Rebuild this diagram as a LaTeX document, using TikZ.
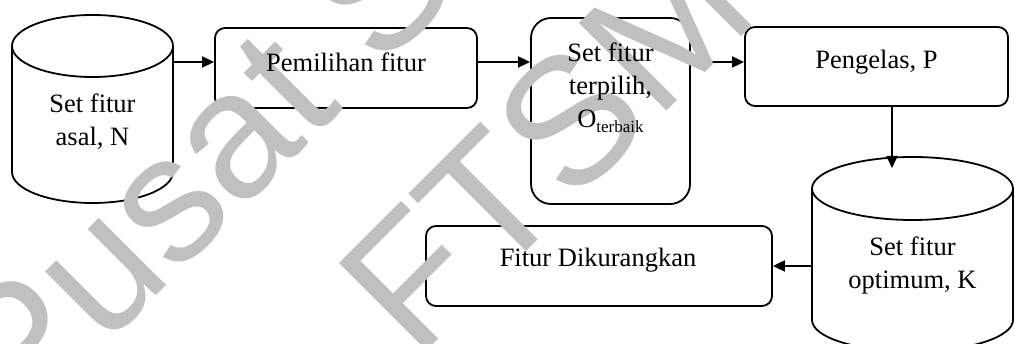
\documentclass[tikz,border=0pt]{standalone}
\usepackage{fontspec}
\setmainfont{Liberation Serif}
\newfontfamily\wmfont{Liberation Sans}
\usetikzlibrary{arrows.meta,calc}
\pgfdeclarelayer{wm}
\pgfdeclarelayer{fg}
\pgfsetlayers{main,wm,fg}
\definecolor{wmgray}{RGB}{192,192,192}

\tikzset{
  x=1pt, y=1pt,
  outline/.style={draw=black, line width=1.8pt, fill=white},
  procbox/.style={outline, rounded corners=10pt, inner sep=0pt},
  holder/.style={inner sep=0pt, outer sep=0pt},
  arr/.style={draw=black, line width=1.8pt, -{Triangle[length=12pt,width=11pt]}},
  lbl/.style={font=\fontsize{26.5}{33}\selectfont, align=center, inner sep=0pt},
  wmtext/.style={font=\wmfont\fontsize{180}{180}\selectfont, text=wmgray,
                 rotate=45, anchor=base west, inner sep=0pt},
}

\begin{document}
\begin{tikzpicture}
\useasboundingbox (0,0) rectangle (1015,344);

% ---- cylinder: original feature set
\node[holder, minimum width=161pt, minimum height=188pt] (c1) at (92.5,235) {};
\draw[outline] (12,298) -- (12,172)
   arc[start angle=180, end angle=360, x radius=80.5, y radius=31] -- (173,298);
\draw[outline] (92.5,298) ellipse[x radius=80.5, y radius=31];

% ---- process boxes
\node[procbox, minimum width=262pt, minimum height=80pt] (pf) at (346,276) {};
\node[procbox, rounded corners=20pt, minimum width=159pt, minimum height=186pt] (so) at (610.5,233) {};
\node[procbox, minimum width=263pt, minimum height=79pt] (pg) at (876.5,277.5) {};
\node[procbox, minimum width=346pt, minimum height=80pt] (fd) at (599,78) {};

% ---- cylinder: optimum feature set
\node[holder, minimum width=201pt, minimum height=194.5pt] (c2) at (912.5,89.75) {};
\draw[outline] (812,155.5) -- (812,24)
   arc[start angle=180, end angle=360, x radius=100.5, y radius=31.5] -- (1013,155.5);
\draw[outline] (912.5,155.5) ellipse[x radius=100.5, y radius=31.5];
\coordinate (c2in) at (892,176);

% ---- connectors
\draw[arr] (c1.east |- 0,282) -- (pf.west |- 0,282);
\draw[arr] (pf.east |- 0,282) -- (so.west |- 0,282);
\draw[arr] (so.east |- 0,282) -- (pg.west |- 0,282);
\draw[arr] (pg.south -| c2in) -- (c2in);
\draw[arr] (c2.west |- fd.east) -- (fd.east);

% ---- watermark
\begin{pgfonlayer}{wm}
\node[wmtext] (wm1) at (19.5,-88.5) {Pusat Sumber};
\node[wmtext] (wm2) at (416,-18) {FTSM};
\end{pgfonlayer}

% ---- labels
\begin{pgfonlayer}{fg}
\node[lbl] (t1) at (92.5,222.5) {Set fitur\\asal, N};
\node[lbl] (t2) at (346,282) {Pemilihan fitur};
\node[lbl] (t3) at (610.5,256) {Set fitur\\terpilih,\\O\raisebox{-5pt}{\fontsize{17}{17}\selectfont terbaik}};
\node[lbl] (t4) at (876.5,282) {Pengelas, P};
\node[lbl] (t5) at (598,84) {Fitur Dikurangkan};
\node[lbl] (t6) at (912.5,79) {Set fitur\\optimum, K};
\end{pgfonlayer}
\end{tikzpicture}
\end{document}
